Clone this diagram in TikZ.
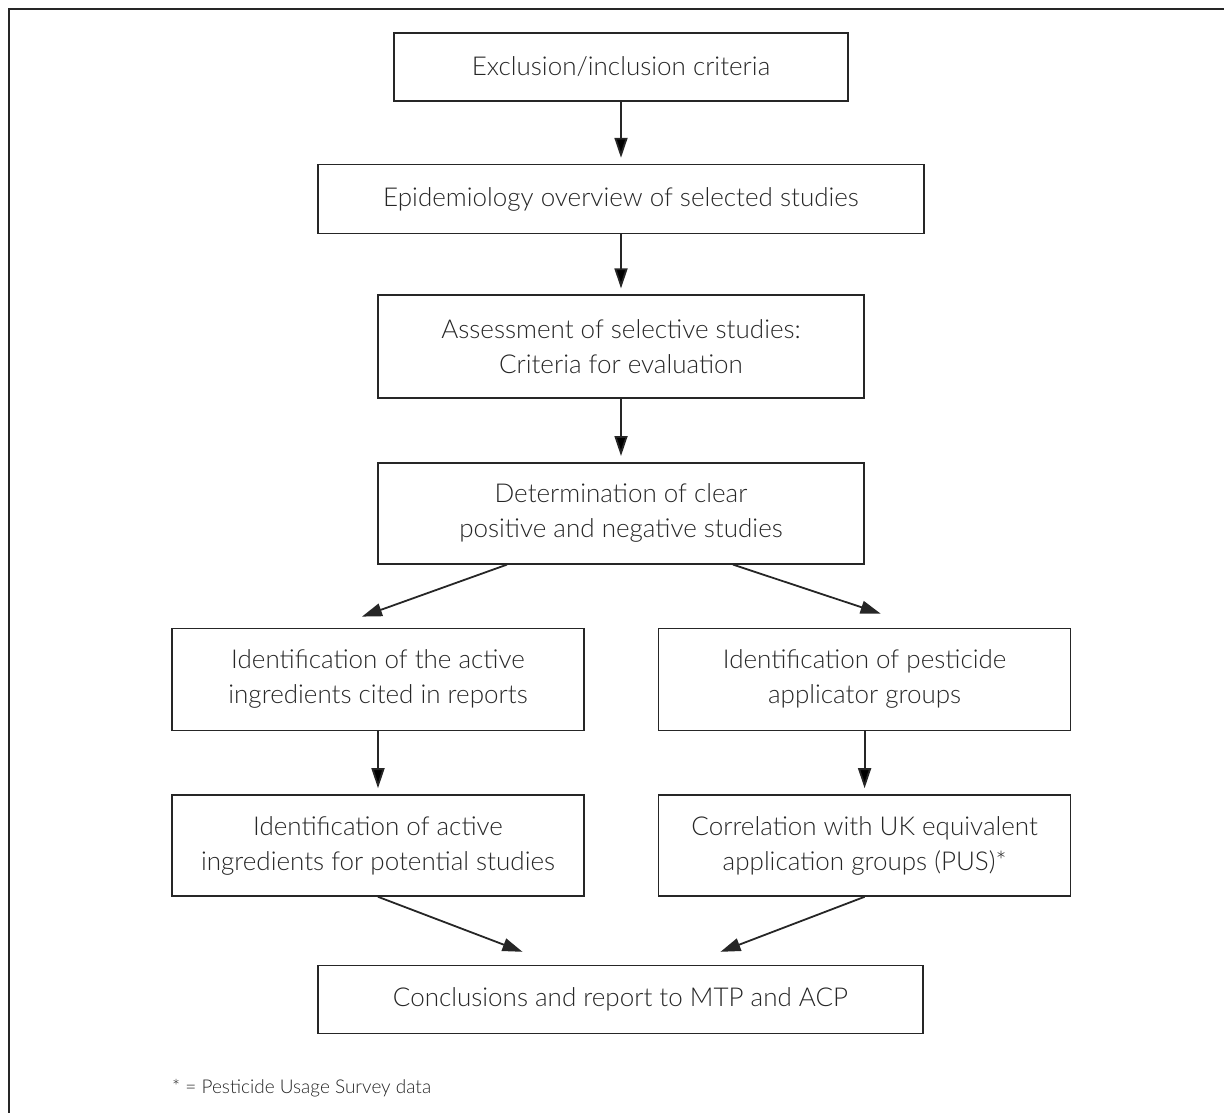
\documentclass[tikz,border=0pt]{standalone}
\usepackage{fontspec}
\setmainfont{Lato}[UprightFont = * Light]
\usepackage{tikz}
\usetikzlibrary{positioning}
\usetikzlibrary{arrows.meta}
\definecolor{ink}{HTML}{262626}

\begin{document}
\begin{tikzpicture}[x=1pt, y=-1pt,
       box/.style = {draw=ink, line width=1.6pt, text=ink, align=center,
                     font=\fontsize{26}{35}\selectfont, inner sep=0pt},
       arr/.style = {draw=ink, line width=1.8pt,
                     -{Triangle[length=20pt,width=13pt]}, shorten >= 6pt},
  node distance = 62pt and 75pt]
  \useasboundingbox (0,0) rectangle (1224,1113);
  \draw[ink, line width=2pt] (9,1113) -- (9,9) -- (1224,9);
  \node[box, minimum width=454pt, minimum height=68pt] (excl) at (621,67)
    {Exclusion/inclusion criteria};
  \node[box, minimum width=606pt, minimum height=69pt, below=of excl] (epid)
    {Epidemiology overview of selected studies};
  \node[box, minimum width=486pt, minimum height=103pt, below=60pt of epid] (assess)
    {Assessment of selective studies:\\ Criteria for evaluation};
  \node[box, minimum width=486pt, minimum height=101pt, below=63pt of assess] (determ)
    {Determination of clear\\ positive and negative studies};
  \node[box, minimum width=412pt, minimum height=102pt,
        below=63pt of determ, xshift=-243pt] (actl)
    {Identification of the active\\ ingredients cited in reports};
  \node[box, minimum width=412pt, minimum height=102pt, right=73pt of actl] (grp)
    {Identification of pesticide\\ applicator groups};
  \node[box, minimum width=412pt, minimum height=101pt, below=63pt of actl] (actp)
    {Identification of active\\ ingredients for potential studies};
  \node[box, minimum width=412pt, minimum height=101pt, below=63pt of grp] (ukeq)
    {Correlation with UK equivalent\\ application groups (PUS)*};
  \node[box, minimum width=605pt, minimum height=68pt,
        below=68pt of actp, xshift=242.5pt] (concl)
    {Conclusions and report to MTP and ACP};
  \node[anchor=west, text=ink, inner sep=0pt,
        font=\fontsize{19}{22}\selectfont] (note) at (172,1088)
    {* = Pesticide Usage Survey data};

  \path[arr] (excl) edge (epid)
             (epid) edge (assess)
             (assess) edge (determ)
             (actl) edge (actp)
             (grp) edge (ukeq);
  \draw[arr, shorten >= 0pt] ([xshift=-114pt]determ.south)
    -- ([xshift=-16pt,yshift=11pt]actl.north);
  \draw[arr, shorten >= 0pt] ([xshift=112pt]determ.south)
    -- ([xshift=16pt,yshift=14pt]grp.north);
  \draw[arr, shorten >= 0pt] (actp.south)
    -- ([xshift=-98pt,yshift=13pt]concl.north);
  \draw[arr, shorten >= 0pt] (ukeq.south)
    -- ([xshift=100pt,yshift=13pt]concl.north);
\end{tikzpicture}
\end{document}
